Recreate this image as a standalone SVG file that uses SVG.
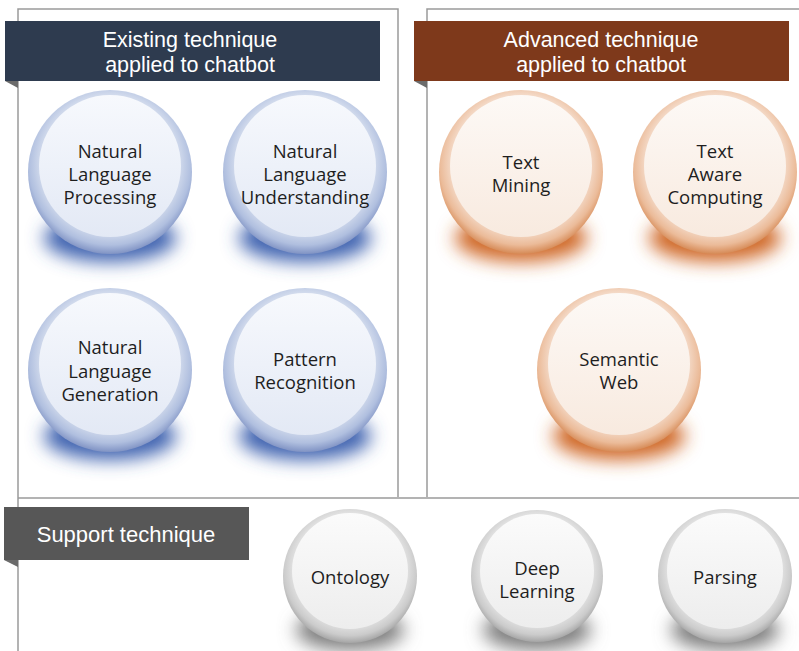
<svg xmlns="http://www.w3.org/2000/svg" width="799" height="651" viewBox="0 0 799 651">
<style>
.frame{fill:none;stroke:#9a9a9a;stroke-width:1.5}
.hdr{font-family:"Liberation Sans","Noto Sans",sans-serif;font-size:21.5px;fill:#ffffff;text-anchor:middle}
.lbl{font-family:"Open Sans","Noto Sans","Liberation Sans",sans-serif;font-size:18.5px;fill:#1e1e1e;text-anchor:middle}
.fold{fill:#6b6b6b}
.shB{fill:#3f63b0;filter:url(#blur)}
.shO{fill:#d06a2a;filter:url(#blur)}
.shG{fill:#7d7d7d;filter:url(#blur)}
</style>
<defs>
<filter id="blur" x="-50%" y="-80%" width="200%" height="260%"><feGaussianBlur stdDeviation="9"/></filter>
<radialGradient id="ouB" cx="0.5" cy="0.45" r="0.55"><stop offset="0" stop-color="#f4f7fc"/><stop offset="0.72" stop-color="#dde4f1"/><stop offset="0.9" stop-color="#b0bfdf"/><stop offset="1" stop-color="#8093c4"/></radialGradient>
<radialGradient id="ouO" cx="0.5" cy="0.45" r="0.55"><stop offset="0" stop-color="#fdf6f1"/><stop offset="0.72" stop-color="#f7e4d7"/><stop offset="0.9" stop-color="#ebbb99"/><stop offset="1" stop-color="#d68a56"/></radialGradient>
<radialGradient id="ouG" cx="0.5" cy="0.45" r="0.55"><stop offset="0" stop-color="#f8f8f8"/><stop offset="0.72" stop-color="#e9e9e9"/><stop offset="0.9" stop-color="#cbcbcb"/><stop offset="1" stop-color="#a5a5a5"/></radialGradient>
<linearGradient id="inB" x1="0" y1="0" x2="0" y2="1"><stop offset="0" stop-color="#f7f9fd"/><stop offset="1" stop-color="#e3e9f5"/></linearGradient>
<linearGradient id="inO" x1="0" y1="0" x2="0" y2="1"><stop offset="0" stop-color="#fdf9f6"/><stop offset="1" stop-color="#f8eadf"/></linearGradient>
<linearGradient id="inG" x1="0" y1="0" x2="0" y2="1"><stop offset="0" stop-color="#fbfbfb"/><stop offset="1" stop-color="#ededed"/></linearGradient>
</defs>

<g id="frames">
<polyline class="frame" points="18,651 18,9 398,9 398,497"/>
<polyline class="frame" points="427,497 427,9 799,9"/>
<line class="frame" x1="18" y1="498" x2="799" y2="498"/>
</g>

<g id="header-existing">
<polygon class="fold" points="5,81 18,81 18,88"/>
<rect x="5" y="21" width="375" height="60" fill="#2e3b4f"/>
<text class="hdr" x="190" y="47">Existing technique</text>
<text class="hdr" x="190" y="72">applied to chatbot</text>
</g>
<g id="header-advanced">
<polygon class="fold" points="414,81 427,81 427,88"/>
<rect x="414" y="21" width="375" height="60" fill="#7e391b"/>
<text class="hdr" x="601" y="47">Advanced technique</text>
<text class="hdr" x="601" y="72">applied to chatbot</text>
</g>
<g id="header-support">
<polygon class="fold" points="4,560 18,560 18,567"/>
<rect x="4" y="507" width="245" height="53" fill="#575757"/>
<text class="hdr" x="126" y="542" style="font-size:22px">Support technique</text>
</g>

<g id="node-nlp">
<ellipse class="shB" cx="110" cy="238" rx="66" ry="24"/>
<circle cx="110" cy="172" r="82" fill="url(#ouB)"/>
<circle cx="110" cy="166" r="71" fill="url(#inB)"/>
<text class="lbl" x="110" y="158">Natural</text>
<text class="lbl" x="110" y="181">Language</text>
<text class="lbl" x="110" y="204">Processing</text>
</g>
<g id="node-nlu">
<ellipse class="shB" cx="305" cy="238" rx="66" ry="24"/>
<circle cx="305" cy="172" r="82" fill="url(#ouB)"/>
<circle cx="305" cy="166" r="71" fill="url(#inB)"/>
<text class="lbl" x="305" y="158">Natural</text>
<text class="lbl" x="305" y="181">Language</text>
<text class="lbl" x="305" y="204">Understanding</text>
</g>
<g id="node-nlg">
<ellipse class="shB" cx="110" cy="436" rx="66" ry="24"/>
<circle cx="110" cy="370" r="82" fill="url(#ouB)"/>
<circle cx="110" cy="364" r="71" fill="url(#inB)"/>
<text class="lbl" x="110" y="354">Natural</text>
<text class="lbl" x="110" y="378">Language</text>
<text class="lbl" x="110" y="401">Generation</text>
</g>
<g id="node-pattern">
<ellipse class="shB" cx="305" cy="436" rx="66" ry="24"/>
<circle cx="305" cy="370" r="82" fill="url(#ouB)"/>
<circle cx="305" cy="364" r="71" fill="url(#inB)"/>
<text class="lbl" x="305" y="366">Pattern</text>
<text class="lbl" x="305" y="389">Recognition</text>
</g>

<g id="node-textmining">
<ellipse class="shO" cx="521" cy="238" rx="66" ry="24"/>
<circle cx="521" cy="172" r="82" fill="url(#ouO)"/>
<circle cx="521" cy="166" r="71" fill="url(#inO)"/>
<text class="lbl" x="521" y="169">Text</text>
<text class="lbl" x="521" y="192">Mining</text>
</g>
<g id="node-textaware">
<ellipse class="shO" cx="715" cy="238" rx="66" ry="24"/>
<circle cx="715" cy="172" r="82" fill="url(#ouO)"/>
<circle cx="715" cy="166" r="71" fill="url(#inO)"/>
<text class="lbl" x="715" y="158">Text</text>
<text class="lbl" x="715" y="181">Aware</text>
<text class="lbl" x="715" y="204">Computing</text>
</g>
<g id="node-semanticweb">
<ellipse class="shO" cx="619" cy="436" rx="66" ry="24"/>
<circle cx="619" cy="370" r="82" fill="url(#ouO)"/>
<circle cx="619" cy="364" r="71" fill="url(#inO)"/>
<text class="lbl" x="619" y="366">Semantic</text>
<text class="lbl" x="619" y="389">Web</text>
</g>

<g id="node-ontology">
<ellipse class="shG" cx="350" cy="630" rx="54" ry="20"/>
<circle cx="350" cy="576" r="67" fill="url(#ouG)"/>
<circle cx="350" cy="571" r="58" fill="url(#inG)"/>
<text class="lbl" x="350" y="584">Ontology</text>
</g>
<g id="node-deeplearning">
<ellipse class="shG" cx="537" cy="630" rx="54" ry="20"/>
<circle cx="537" cy="576" r="66" fill="url(#ouG)"/>
<circle cx="537" cy="571" r="57" fill="url(#inG)"/>
<text class="lbl" x="537" y="575">Deep</text>
<text class="lbl" x="537" y="598">Learning</text>
</g>
<g id="node-parsing">
<ellipse class="shG" cx="725" cy="630" rx="54" ry="20"/>
<circle cx="725" cy="576" r="67" fill="url(#ouG)"/>
<circle cx="725" cy="571" r="58" fill="url(#inG)"/>
<text class="lbl" x="725" y="584">Parsing</text>
</g>

<g id="connectors"></g>
</svg>
